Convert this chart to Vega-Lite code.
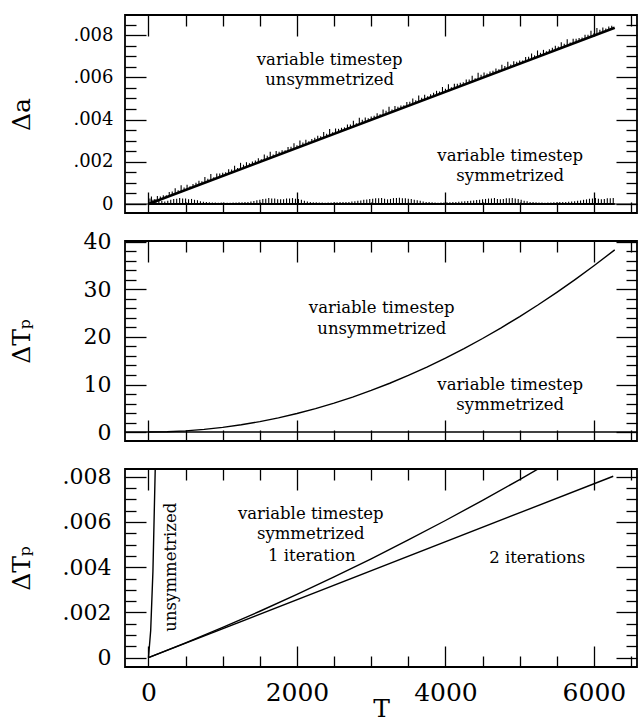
{
  "$schema": "https://vega.github.io/schema/vega-lite/v6.json",
  "padding": {"left": 8, "top": 13, "right": 0, "bottom": 0},
  "background": "white",
  "spacing": 28,
  "bounds": "flush",
  "config": {
    "font": "DejaVu Serif",
    "view": {"stroke": "black", "strokeWidth": 1.8},
    "axis": {"domain": false, "ticks": true, "grid": false, "tickColor": "black", "tickWidth": 1.3, "labelColor": "black", "titleColor": "black", "labelFont": "DejaVu Serif", "titleFont": "DejaVu Serif", "titleFontWeight": "normal"},
    "text": {"font": "DejaVu Serif"}
  },
  "datasets": {
    "zero": [{"v": 0}],
    "p1_unsym": [{"T": 0, "v": 0}, {"T": 6280, "v": 0.00835}],
    "p1_symbase": [{"T": 0, "v": 0}, {"T": 6280, "v": 0}],
    "p1_spk": [
      {"T": 40, "lo": 0.00005, "hi": 0.00035}, {"T": 120, "lo": 0.00016, "hi": 0.00038}, {"T": 200, "lo": 0.00027, "hi": 0.00042}, {"T": 280, "lo": 0.00037, "hi": 0.00057}, {"T": 360, "lo": 0.00048, "hi": 0.00075},
      {"T": 440, "lo": 0.00059, "hi": 0.00089}, {"T": 520, "lo": 0.00069, "hi": 0.00091}, {"T": 600, "lo": 0.0008, "hi": 0.00095}, {"T": 680, "lo": 0.0009, "hi": 0.0011}, {"T": 760, "lo": 0.00101, "hi": 0.00128},
      {"T": 840, "lo": 0.00112, "hi": 0.00142}, {"T": 920, "lo": 0.00122, "hi": 0.00144}, {"T": 1000, "lo": 0.00133, "hi": 0.00148}, {"T": 1080, "lo": 0.00144, "hi": 0.00164}, {"T": 1160, "lo": 0.00154, "hi": 0.00181},
      {"T": 1240, "lo": 0.00165, "hi": 0.00195}, {"T": 1320, "lo": 0.00176, "hi": 0.00198}, {"T": 1400, "lo": 0.00186, "hi": 0.00201}, {"T": 1480, "lo": 0.00197, "hi": 0.00217}, {"T": 1560, "lo": 0.00207, "hi": 0.00234},
      {"T": 1640, "lo": 0.00218, "hi": 0.00248}, {"T": 1720, "lo": 0.00229, "hi": 0.00251}, {"T": 1800, "lo": 0.00239, "hi": 0.00254}, {"T": 1880, "lo": 0.0025, "hi": 0.0027}, {"T": 1960, "lo": 0.00261, "hi": 0.00288},
      {"T": 2040, "lo": 0.00271, "hi": 0.00301}, {"T": 2120, "lo": 0.00282, "hi": 0.00304}, {"T": 2200, "lo": 0.00293, "hi": 0.00308}, {"T": 2280, "lo": 0.00303, "hi": 0.00323}, {"T": 2360, "lo": 0.00314, "hi": 0.00341},
      {"T": 2440, "lo": 0.00325, "hi": 0.00355}, {"T": 2520, "lo": 0.00335, "hi": 0.00357}, {"T": 2600, "lo": 0.00346, "hi": 0.00361}, {"T": 2680, "lo": 0.00356, "hi": 0.00376}, {"T": 2760, "lo": 0.00367, "hi": 0.00394},
      {"T": 2840, "lo": 0.00378, "hi": 0.00408}, {"T": 2920, "lo": 0.00388, "hi": 0.0041}, {"T": 3000, "lo": 0.00399, "hi": 0.00414}, {"T": 3080, "lo": 0.0041, "hi": 0.0043}, {"T": 3160, "lo": 0.0042, "hi": 0.00447},
      {"T": 3240, "lo": 0.00431, "hi": 0.00461}, {"T": 3320, "lo": 0.00442, "hi": 0.00464}, {"T": 3400, "lo": 0.00452, "hi": 0.00467}, {"T": 3480, "lo": 0.00463, "hi": 0.00483}, {"T": 3560, "lo": 0.00473, "hi": 0.005},
      {"T": 3640, "lo": 0.00484, "hi": 0.00514}, {"T": 3720, "lo": 0.00495, "hi": 0.00517}, {"T": 3800, "lo": 0.00505, "hi": 0.0052}, {"T": 3880, "lo": 0.00516, "hi": 0.00536}, {"T": 3960, "lo": 0.00527, "hi": 0.00554},
      {"T": 4040, "lo": 0.00537, "hi": 0.00567}, {"T": 4120, "lo": 0.00548, "hi": 0.0057}, {"T": 4200, "lo": 0.00559, "hi": 0.00574}, {"T": 4280, "lo": 0.00569, "hi": 0.00589}, {"T": 4360, "lo": 0.0058, "hi": 0.00607},
      {"T": 4440, "lo": 0.00591, "hi": 0.00621}, {"T": 4520, "lo": 0.00601, "hi": 0.00623}, {"T": 4600, "lo": 0.00612, "hi": 0.00627}, {"T": 4680, "lo": 0.00622, "hi": 0.00642}, {"T": 4760, "lo": 0.00633, "hi": 0.0066},
      {"T": 4840, "lo": 0.00644, "hi": 0.00674}, {"T": 4920, "lo": 0.00654, "hi": 0.00676}, {"T": 5000, "lo": 0.00665, "hi": 0.0068}, {"T": 5080, "lo": 0.00676, "hi": 0.00696}, {"T": 5160, "lo": 0.00686, "hi": 0.00713},
      {"T": 5240, "lo": 0.00697, "hi": 0.00727}, {"T": 5320, "lo": 0.00708, "hi": 0.0073}, {"T": 5400, "lo": 0.00718, "hi": 0.00733}, {"T": 5480, "lo": 0.00729, "hi": 0.00749}, {"T": 5560, "lo": 0.00739, "hi": 0.00766},
      {"T": 5640, "lo": 0.0075, "hi": 0.0078}, {"T": 5720, "lo": 0.00761, "hi": 0.00783}, {"T": 5800, "lo": 0.00771, "hi": 0.00786}, {"T": 5880, "lo": 0.00782, "hi": 0.00802}, {"T": 5960, "lo": 0.00793, "hi": 0.0082},
      {"T": 6040, "lo": 0.00803, "hi": 0.00833}, {"T": 6120, "lo": 0.00814, "hi": 0.00836}, {"T": 6200, "lo": 0.00825, "hi": 0.0084},
      {"T": 80, "lo": 0.00011, "hi": 0.00023}, {"T": 160, "lo": 0.00021, "hi": 0.00035}, {"T": 240, "lo": 0.00032, "hi": 0.00042}, {"T": 320, "lo": 0.00043, "hi": 0.00059}, {"T": 400, "lo": 0.00053, "hi": 0.00065},
      {"T": 480, "lo": 0.00064, "hi": 0.00078}, {"T": 560, "lo": 0.00074, "hi": 0.00084}, {"T": 640, "lo": 0.00085, "hi": 0.00101}, {"T": 720, "lo": 0.00096, "hi": 0.00108}, {"T": 800, "lo": 0.00106, "hi": 0.0012},
      {"T": 880, "lo": 0.00117, "hi": 0.00127}, {"T": 960, "lo": 0.00128, "hi": 0.00144}, {"T": 1040, "lo": 0.00138, "hi": 0.0015}, {"T": 1120, "lo": 0.00149, "hi": 0.00163}, {"T": 1200, "lo": 0.0016, "hi": 0.0017},
      {"T": 1280, "lo": 0.0017, "hi": 0.00186}, {"T": 1360, "lo": 0.00181, "hi": 0.00193}, {"T": 1440, "lo": 0.00192, "hi": 0.00206}, {"T": 1520, "lo": 0.00202, "hi": 0.00212}, {"T": 1600, "lo": 0.00213, "hi": 0.00229},
      {"T": 1680, "lo": 0.00223, "hi": 0.00235}, {"T": 1760, "lo": 0.00234, "hi": 0.00248}, {"T": 1840, "lo": 0.00245, "hi": 0.00255}, {"T": 1920, "lo": 0.00255, "hi": 0.00271}, {"T": 2000, "lo": 0.00266, "hi": 0.00278},
      {"T": 2080, "lo": 0.00277, "hi": 0.00291}, {"T": 2160, "lo": 0.00287, "hi": 0.00297}, {"T": 2240, "lo": 0.00298, "hi": 0.00314}, {"T": 2320, "lo": 0.00309, "hi": 0.00321}, {"T": 2400, "lo": 0.00319, "hi": 0.00333},
      {"T": 2480, "lo": 0.0033, "hi": 0.0034}, {"T": 2560, "lo": 0.0034, "hi": 0.00356}, {"T": 2640, "lo": 0.00351, "hi": 0.00363}, {"T": 2720, "lo": 0.00362, "hi": 0.00376}, {"T": 2800, "lo": 0.00372, "hi": 0.00382},
      {"T": 2880, "lo": 0.00383, "hi": 0.00399}, {"T": 2960, "lo": 0.00394, "hi": 0.00406}, {"T": 3040, "lo": 0.00404, "hi": 0.00418}, {"T": 3120, "lo": 0.00415, "hi": 0.00425}, {"T": 3200, "lo": 0.00426, "hi": 0.00442},
      {"T": 3280, "lo": 0.00436, "hi": 0.00448}, {"T": 3360, "lo": 0.00447, "hi": 0.00461}, {"T": 3440, "lo": 0.00458, "hi": 0.00468}, {"T": 3520, "lo": 0.00468, "hi": 0.00484}, {"T": 3600, "lo": 0.00479, "hi": 0.00491},
      {"T": 3680, "lo": 0.00489, "hi": 0.00503}, {"T": 3760, "lo": 0.005, "hi": 0.0051}, {"T": 3840, "lo": 0.00511, "hi": 0.00527}, {"T": 3920, "lo": 0.00521, "hi": 0.00533}, {"T": 4000, "lo": 0.00532, "hi": 0.00546},
      {"T": 4080, "lo": 0.00543, "hi": 0.00553}, {"T": 4160, "lo": 0.00553, "hi": 0.00569}, {"T": 4240, "lo": 0.00564, "hi": 0.00576}, {"T": 4320, "lo": 0.00575, "hi": 0.00589}, {"T": 4400, "lo": 0.00585, "hi": 0.00595},
      {"T": 4480, "lo": 0.00596, "hi": 0.00612}, {"T": 4560, "lo": 0.00606, "hi": 0.00618}, {"T": 4640, "lo": 0.00617, "hi": 0.00631}, {"T": 4720, "lo": 0.00628, "hi": 0.00638}, {"T": 4800, "lo": 0.00638, "hi": 0.00654},
      {"T": 4880, "lo": 0.00649, "hi": 0.00661}, {"T": 4960, "lo": 0.0066, "hi": 0.00674}, {"T": 5040, "lo": 0.0067, "hi": 0.0068}, {"T": 5120, "lo": 0.00681, "hi": 0.00697}, {"T": 5200, "lo": 0.00692, "hi": 0.00704},
      {"T": 5280, "lo": 0.00702, "hi": 0.00716}, {"T": 5360, "lo": 0.00713, "hi": 0.00723}, {"T": 5440, "lo": 0.00724, "hi": 0.0074}, {"T": 5520, "lo": 0.00734, "hi": 0.00746}, {"T": 5600, "lo": 0.00745, "hi": 0.00759},
      {"T": 5680, "lo": 0.00755, "hi": 0.00765}, {"T": 5760, "lo": 0.00766, "hi": 0.00782}, {"T": 5840, "lo": 0.00777, "hi": 0.00789}, {"T": 5920, "lo": 0.00787, "hi": 0.00801}, {"T": 6000, "lo": 0.00798, "hi": 0.00808},
      {"T": 6080, "lo": 0.00809, "hi": 0.00825}, {"T": 6160, "lo": 0.00819, "hi": 0.00831}, {"T": 6240, "lo": 0.0083, "hi": 0.00844}
    ],
    "p1_symspk": [
      {"T": 20, "lo": 0, "hi": 0.00026}, {"T": 100, "lo": 0, "hi": 0.00022}, {"T": 180, "lo": 0, "hi": 0.00014}, {"T": 260, "lo": 0, "hi": 0.00016}, {"T": 340, "lo": 0, "hi": 0.00024},
      {"T": 420, "lo": 0, "hi": 0.00028}, {"T": 500, "lo": 0, "hi": 0.00026}, {"T": 580, "lo": 0, "hi": 0.00024}, {"T": 660, "lo": 0, "hi": 0.00018}, {"T": 740, "lo": 0, "hi": 0.00011},
      {"T": 820, "lo": 0, "hi": 0.00008}, {"T": 900, "lo": 0, "hi": 0.00007}, {"T": 980, "lo": 0, "hi": 0.00007}, {"T": 1060, "lo": 0, "hi": 0.00006}, {"T": 1140, "lo": 0, "hi": 0.00007},
      {"T": 1220, "lo": 0, "hi": 0.00008}, {"T": 1300, "lo": 0, "hi": 0.00009}, {"T": 1380, "lo": 0, "hi": 0.00012}, {"T": 1460, "lo": 0, "hi": 0.00018}, {"T": 1540, "lo": 0, "hi": 0.00024},
      {"T": 1620, "lo": 0, "hi": 0.00028}, {"T": 1700, "lo": 0, "hi": 0.00026}, {"T": 1780, "lo": 0, "hi": 0.00022}, {"T": 1860, "lo": 0, "hi": 0.00026}, {"T": 1940, "lo": 0, "hi": 0.00028},
      {"T": 2020, "lo": 0, "hi": 0.00024}, {"T": 2100, "lo": 0, "hi": 0.00016}, {"T": 2180, "lo": 0, "hi": 0.0001}, {"T": 2260, "lo": 0, "hi": 0.00008}, {"T": 2340, "lo": 0, "hi": 0.00007},
      {"T": 2420, "lo": 0, "hi": 0.00007}, {"T": 2500, "lo": 0, "hi": 0.00008}, {"T": 2580, "lo": 0, "hi": 0.00009}, {"T": 2660, "lo": 0, "hi": 0.0001}, {"T": 2740, "lo": 0, "hi": 0.00012},
      {"T": 2820, "lo": 0, "hi": 0.00015}, {"T": 2900, "lo": 0, "hi": 0.0002}, {"T": 2980, "lo": 0, "hi": 0.00024}, {"T": 3060, "lo": 0, "hi": 0.00027}, {"T": 3140, "lo": 0, "hi": 0.00029},
      {"T": 3220, "lo": 0, "hi": 0.00022}, {"T": 3300, "lo": 0, "hi": 0.00028}, {"T": 3380, "lo": 0, "hi": 0.0003}, {"T": 3460, "lo": 0, "hi": 0.00027}, {"T": 3540, "lo": 0, "hi": 0.00024},
      {"T": 3620, "lo": 0, "hi": 0.00018}, {"T": 3700, "lo": 0, "hi": 0.00012}, {"T": 3780, "lo": 0, "hi": 0.00009}, {"T": 3860, "lo": 0, "hi": 0.00007}, {"T": 3940, "lo": 0, "hi": 0.00007},
      {"T": 4020, "lo": 0, "hi": 0.00008}, {"T": 4100, "lo": 0, "hi": 0.00009}, {"T": 4180, "lo": 0, "hi": 0.00011}, {"T": 4260, "lo": 0, "hi": 0.00013}, {"T": 4340, "lo": 0, "hi": 0.00016},
      {"T": 4420, "lo": 0, "hi": 0.00019}, {"T": 4500, "lo": 0, "hi": 0.00022}, {"T": 4580, "lo": 0, "hi": 0.00026}, {"T": 4660, "lo": 0, "hi": 0.00028}, {"T": 4740, "lo": 0, "hi": 0.00022},
      {"T": 4820, "lo": 0, "hi": 0.00027}, {"T": 4900, "lo": 0, "hi": 0.00029}, {"T": 4980, "lo": 0, "hi": 0.00024}, {"T": 5060, "lo": 0, "hi": 0.00016}, {"T": 5140, "lo": 0, "hi": 0.0001},
      {"T": 5220, "lo": 0, "hi": 0.00008}, {"T": 5300, "lo": 0, "hi": 0.00007}, {"T": 5380, "lo": 0, "hi": 0.00007}, {"T": 5460, "lo": 0, "hi": 0.00008}, {"T": 5540, "lo": 0, "hi": 0.00009},
      {"T": 5620, "lo": 0, "hi": 0.0001}, {"T": 5700, "lo": 0, "hi": 0.00012}, {"T": 5780, "lo": 0, "hi": 0.00015}, {"T": 5860, "lo": 0, "hi": 0.0002}, {"T": 5940, "lo": 0, "hi": 0.00025},
      {"T": 6020, "lo": 0, "hi": 0.00028}, {"T": 6100, "lo": 0, "hi": 0.00022}, {"T": 6180, "lo": 0, "hi": 0.00027}, {"T": 6260, "lo": 0, "hi": 0.00029},
      {"T": 60, "lo": 0, "hi": 0.0002}, {"T": 140, "lo": 0, "hi": 0.00016}, {"T": 220, "lo": 0, "hi": 0.00012}, {"T": 300, "lo": 0, "hi": 0.0002}, {"T": 380, "lo": 0, "hi": 0.00025},
      {"T": 460, "lo": 0, "hi": 0.00026}, {"T": 540, "lo": 0, "hi": 0.00023}, {"T": 620, "lo": 0, "hi": 0.0002}, {"T": 700, "lo": 0, "hi": 0.00013}, {"T": 780, "lo": 0, "hi": 0.00009},
      {"T": 860, "lo": 0, "hi": 0.00007}, {"T": 940, "lo": 0, "hi": 0.00006}, {"T": 1020, "lo": 0, "hi": 0.00006}, {"T": 1100, "lo": 0, "hi": 0.00006}, {"T": 1180, "lo": 0, "hi": 0.00007},
      {"T": 1260, "lo": 0, "hi": 0.00008}, {"T": 1340, "lo": 0, "hi": 0.0001}, {"T": 1420, "lo": 0, "hi": 0.00014}, {"T": 1500, "lo": 0, "hi": 0.0002}, {"T": 1580, "lo": 0, "hi": 0.00025},
      {"T": 1660, "lo": 0, "hi": 0.00026}, {"T": 1740, "lo": 0, "hi": 0.00022}, {"T": 1820, "lo": 0, "hi": 0.00023}, {"T": 1900, "lo": 0, "hi": 0.00026}, {"T": 1980, "lo": 0, "hi": 0.00025},
      {"T": 2060, "lo": 0, "hi": 0.0002}, {"T": 2140, "lo": 0, "hi": 0.00012}, {"T": 2220, "lo": 0, "hi": 0.00008}, {"T": 2300, "lo": 0, "hi": 0.00007}, {"T": 2380, "lo": 0, "hi": 0.00006},
      {"T": 2460, "lo": 0, "hi": 0.00007}, {"T": 2540, "lo": 0, "hi": 0.00008}, {"T": 2620, "lo": 0, "hi": 0.00009}, {"T": 2700, "lo": 0, "hi": 0.0001}, {"T": 2780, "lo": 0, "hi": 0.00013},
      {"T": 2860, "lo": 0, "hi": 0.00017}, {"T": 2940, "lo": 0, "hi": 0.00021}, {"T": 3020, "lo": 0, "hi": 0.00025}, {"T": 3100, "lo": 0, "hi": 0.00027}, {"T": 3180, "lo": 0, "hi": 0.00025},
      {"T": 3260, "lo": 0, "hi": 0.00024}, {"T": 3340, "lo": 0, "hi": 0.00028}, {"T": 3420, "lo": 0, "hi": 0.00027}, {"T": 3500, "lo": 0, "hi": 0.00025}, {"T": 3580, "lo": 0, "hi": 0.0002},
      {"T": 3660, "lo": 0, "hi": 0.00015}, {"T": 3740, "lo": 0, "hi": 0.0001}, {"T": 3820, "lo": 0, "hi": 0.00008}, {"T": 3900, "lo": 0, "hi": 0.00006}, {"T": 3980, "lo": 0, "hi": 0.00007},
      {"T": 4060, "lo": 0, "hi": 0.00008}, {"T": 4140, "lo": 0, "hi": 0.0001}, {"T": 4220, "lo": 0, "hi": 0.00012}, {"T": 4300, "lo": 0, "hi": 0.00014}, {"T": 4380, "lo": 0, "hi": 0.00017},
      {"T": 4460, "lo": 0, "hi": 0.0002}, {"T": 4540, "lo": 0, "hi": 0.00024}, {"T": 4620, "lo": 0, "hi": 0.00026}, {"T": 4700, "lo": 0, "hi": 0.00024}, {"T": 4780, "lo": 0, "hi": 0.00024},
      {"T": 4860, "lo": 0, "hi": 0.00027}, {"T": 4940, "lo": 0, "hi": 0.00026}, {"T": 5020, "lo": 0, "hi": 0.0002}, {"T": 5100, "lo": 0, "hi": 0.00013}, {"T": 5180, "lo": 0, "hi": 0.00009},
      {"T": 5260, "lo": 0, "hi": 0.00007}, {"T": 5340, "lo": 0, "hi": 0.00006}, {"T": 5420, "lo": 0, "hi": 0.00007}, {"T": 5500, "lo": 0, "hi": 0.00008}, {"T": 5580, "lo": 0, "hi": 0.00009},
      {"T": 5660, "lo": 0, "hi": 0.00011}, {"T": 5740, "lo": 0, "hi": 0.00013}, {"T": 5820, "lo": 0, "hi": 0.00017}, {"T": 5900, "lo": 0, "hi": 0.00022}, {"T": 5980, "lo": 0, "hi": 0.00026},
      {"T": 6060, "lo": 0, "hi": 0.00025}, {"T": 6140, "lo": 0, "hi": 0.00024}, {"T": 6220, "lo": 0, "hi": 0.00027}
    ],
    "p1_text": [
      {"T": 2440, "v": 0.00682, "label": "variable timestep"},
      {"T": 2440, "v": 0.00587, "label": "unsymmetrized"},
      {"T": 4872, "v": 0.00227, "label": "variable timestep"},
      {"T": 4872, "v": 0.00133, "label": "symmetrized"}
    ],
    "p2_curve": [
      {"T": 0, "v": 0}, {"T": 250, "v": 0.061}, {"T": 500, "v": 0.243}, {"T": 750, "v": 0.547}, {"T": 1000, "v": 0.972},
      {"T": 1250, "v": 1.519}, {"T": 1500, "v": 2.187}, {"T": 1750, "v": 2.977}, {"T": 2000, "v": 3.888}, {"T": 2250, "v": 4.921},
      {"T": 2500, "v": 6.075}, {"T": 2750, "v": 7.351}, {"T": 3000, "v": 8.748}, {"T": 3250, "v": 10.267}, {"T": 3500, "v": 11.907},
      {"T": 3750, "v": 13.669}, {"T": 4000, "v": 15.552}, {"T": 4250, "v": 17.557}, {"T": 4500, "v": 19.683}, {"T": 4750, "v": 21.931},
      {"T": 5000, "v": 24.3}, {"T": 5250, "v": 26.79}, {"T": 5500, "v": 29.403}, {"T": 5750, "v": 32.137}, {"T": 6000, "v": 34.992}, {"T": 6280, "v": 38.33}
    ],
    "p2_sym": [{"T": -316, "v": 0}, {"T": 6580, "v": 0}],
    "p2_textA": [
      {"T": 3142, "v": 26.0, "label": "variable timestep"},
      {"T": 3142, "v": 21.6, "label": "unsymmetrized"}
    ],
    "p2_textB": [
      {"T": 4872, "v": 9.8, "label": "variable timestep"},
      {"T": 4872, "v": 5.6, "label": "symmetrized"}
    ],
    "p3_unsym": [{"T": 0, "v": 0}, {"T": 30, "v": 0.0012}, {"T": 60, "v": 0.0038}, {"T": 95, "v": 0.0089}],
    "p3_iter1": [
      {"T": 0, "v": 0}, {"T": 500, "v": 0.000655}, {"T": 1000, "v": 0.001339}, {"T": 1500, "v": 0.002053}, {"T": 2000, "v": 0.002796},
      {"T": 2500, "v": 0.003569}, {"T": 3000, "v": 0.004371}, {"T": 3500, "v": 0.005203}, {"T": 4000, "v": 0.006064}, {"T": 4500, "v": 0.006955},
      {"T": 5000, "v": 0.007875}, {"T": 5400, "v": 0.00863}
    ],
    "p3_iter2": [{"T": 0, "v": 0}, {"T": 6260, "v": 0.00802}],
    "p3_text": [
      {"T": 2186, "v": 0.00636, "label": "variable timestep"},
      {"T": 2186, "v": 0.00547, "label": "symmetrized"},
      {"T": 2200, "v": 0.00449, "label": "1 iteration"},
      {"T": 5236, "v": 0.0044, "label": "2 iterations"}
    ],
    "p3_vtext": [{"T": 304, "v": 0.004, "label": "unsymmetrized"}]
  },
  "vconcat": [
    {
      "width": 512, "height": 198,
      "resolve": {"axis": {"x": "independent", "y": "independent"}},
      "layer": [
        {
          "data": {"name": "p1_unsym"},
          "mark": {"type": "line", "color": "black", "strokeWidth": 2.6},
          "encoding": {
            "x": {"field": "T", "type": "quantitative", "scale": {"domain": [-316, 6580], "nice": false, "zero": false},
              "axis": {"orient": "bottom", "values": [0, 2000, 4000, 6000], "tickSize": -21, "labels": false, "title": null, "minExtent": 0, "maxExtent": 0}},
            "y": {"field": "v", "type": "quantitative", "scale": {"domain": [-0.000426, 0.00895], "nice": false, "zero": false},
              "axis": {"orient": "left", "values": [0, 0.002, 0.004, 0.006, 0.008], "tickSize": -21, "labelExpr": "datum.value == 0 ? '0' : replace(format(datum.value, '.3f'), '0.', '.')", "labelFontSize": 18, "labelPadding": 33, "title": "\u0394a", "titleFontSize": 25, "titlePadding": 21, "minExtent": 70, "maxExtent": 70}}
          }
        },
        {
          "data": {"name": "p1_symbase"},
          "mark": {"type": "line", "color": "black", "strokeWidth": 2},
          "encoding": {
            "x": {"field": "T", "type": "quantitative", "scale": {"domain": [-316, 6580], "nice": false, "zero": false},
              "axis": {"orient": "bottom", "values": [500, 1000, 1500, 2500, 3000, 3500, 4500, 5000, 5500, 6500], "tickSize": -11, "labels": false, "title": null, "minExtent": 0, "maxExtent": 0}},
            "y": {"field": "v", "type": "quantitative", "scale": {"domain": [-0.000426, 0.00895], "nice": false, "zero": false},
              "axis": {"orient": "left", "values": [0.0005, 0.001, 0.0015, 0.0025, 0.003, 0.0035, 0.0045, 0.005, 0.0055, 0.0065, 0.007, 0.0075, 0.0085], "tickSize": -11, "labels": false, "title": null, "minExtent": 0, "maxExtent": 0}}
          }
        },
        {
          "data": {"name": "p1_spk"},
          "mark": {"type": "rule", "color": "black", "strokeWidth": 1.1},
          "encoding": {
            "x": {"field": "T", "type": "quantitative", "scale": {"domain": [-316, 6580], "nice": false, "zero": false},
              "axis": {"orient": "top", "values": [0, 2000, 4000, 6000], "tickSize": -21, "labels": false, "title": null, "minExtent": 0, "maxExtent": 0}},
            "y": {"field": "lo", "type": "quantitative", "scale": {"domain": [-0.000426, 0.00895], "nice": false, "zero": false},
              "axis": {"orient": "right", "values": [0, 0.002, 0.004, 0.006, 0.008], "tickSize": -21, "labels": false, "title": null, "minExtent": 0, "maxExtent": 0}},
            "y2": {"field": "hi"}
          }
        },
        {
          "data": {"name": "p1_symspk"},
          "mark": {"type": "rule", "color": "black", "strokeWidth": 1.1},
          "encoding": {
            "x": {"field": "T", "type": "quantitative", "scale": {"domain": [-316, 6580], "nice": false, "zero": false},
              "axis": {"orient": "top", "values": [500, 1000, 1500, 2500, 3000, 3500, 4500, 5000, 5500, 6500], "tickSize": -11, "labels": false, "title": null, "minExtent": 0, "maxExtent": 0}},
            "y": {"field": "lo", "type": "quantitative", "scale": {"domain": [-0.000426, 0.00895], "nice": false, "zero": false},
              "axis": {"orient": "right", "values": [0.0005, 0.001, 0.0015, 0.0025, 0.003, 0.0035, 0.0045, 0.005, 0.0055, 0.0065, 0.007, 0.0075, 0.0085], "tickSize": -11, "labels": false, "title": null, "minExtent": 0, "maxExtent": 0}},
            "y2": {"field": "hi"}
          }
        },
        {
          "data": {"name": "zero"},
          "mark": {"type": "rule", "color": "black", "strokeWidth": 1.2},
          "encoding": {"y": {"field": "v", "type": "quantitative", "scale": {"domain": [-0.000426, 0.00895], "nice": false, "zero": false}, "axis": null}}
        },
        {
          "data": {"name": "p1_text"},
          "mark": {"type": "text", "fontSize": 16.5, "color": "black", "align": "center", "baseline": "middle"},
          "encoding": {
            "x": {"field": "T", "type": "quantitative", "scale": {"domain": [-316, 6580], "nice": false, "zero": false}, "axis": null},
            "y": {"field": "v", "type": "quantitative", "scale": {"domain": [-0.000426, 0.00895], "nice": false, "zero": false}, "axis": null},
            "text": {"field": "label"}
          }
        }
      ]
    },
    {
      "width": 512, "height": 200,
      "resolve": {"axis": {"x": "independent", "y": "independent"}},
      "layer": [
        {
          "data": {"name": "p2_curve"},
          "mark": {"type": "line", "color": "black", "strokeWidth": 1.4},
          "encoding": {
            "x": {"field": "T", "type": "quantitative", "scale": {"domain": [-316, 6580], "nice": false, "zero": false},
              "axis": {"orient": "bottom", "values": [0, 2000, 4000, 6000], "tickSize": -21, "labels": false, "title": null, "minExtent": 0, "maxExtent": 0}},
            "y": {"field": "v", "type": "quantitative", "scale": {"domain": [-1.89, 40.2], "nice": false, "zero": false},
              "axis": {"orient": "left", "values": [0, 10, 20, 30, 40], "tickSize": -21, "format": "d", "labelFontSize": 22, "labelPadding": 35, "title": "\u0394T\u209a", "titleFontSize": 25, "titlePadding": 21, "minExtent": 70, "maxExtent": 70}}
          }
        },
        {
          "data": {"name": "p2_sym"},
          "mark": {"type": "line", "color": "black", "strokeWidth": 1.4},
          "encoding": {
            "x": {"field": "T", "type": "quantitative", "scale": {"domain": [-316, 6580], "nice": false, "zero": false},
              "axis": {"orient": "bottom", "values": [500, 1000, 1500, 2500, 3000, 3500, 4500, 5000, 5500, 6500], "tickSize": -11, "labels": false, "title": null, "minExtent": 0, "maxExtent": 0}},
            "y": {"field": "v", "type": "quantitative", "scale": {"domain": [-1.89, 40.2], "nice": false, "zero": false},
              "axis": {"orient": "left", "values": [2, 4, 6, 8, 12, 14, 16, 18, 22, 24, 26, 28, 32, 34, 36, 38], "tickSize": -11, "labels": false, "title": null, "minExtent": 0, "maxExtent": 0}}
          }
        },
        {
          "data": {"name": "p2_textA"},
          "mark": {"type": "text", "fontSize": 16.5, "color": "black", "align": "center", "baseline": "middle"},
          "encoding": {
            "x": {"field": "T", "type": "quantitative", "scale": {"domain": [-316, 6580], "nice": false, "zero": false},
              "axis": {"orient": "top", "values": [0, 2000, 4000, 6000], "tickSize": -21, "labels": false, "title": null, "minExtent": 0, "maxExtent": 0}},
            "y": {"field": "v", "type": "quantitative", "scale": {"domain": [-1.89, 40.2], "nice": false, "zero": false},
              "axis": {"orient": "right", "values": [0, 10, 20, 30, 40], "tickSize": -21, "labels": false, "title": null, "minExtent": 0, "maxExtent": 0}},
            "text": {"field": "label"}
          }
        },
        {
          "data": {"name": "p2_textB"},
          "mark": {"type": "text", "fontSize": 16.5, "color": "black", "align": "center", "baseline": "middle"},
          "encoding": {
            "x": {"field": "T", "type": "quantitative", "scale": {"domain": [-316, 6580], "nice": false, "zero": false},
              "axis": {"orient": "top", "values": [500, 1000, 1500, 2500, 3000, 3500, 4500, 5000, 5500, 6500], "tickSize": -11, "labels": false, "title": null, "minExtent": 0, "maxExtent": 0}},
            "y": {"field": "v", "type": "quantitative", "scale": {"domain": [-1.89, 40.2], "nice": false, "zero": false},
              "axis": {"orient": "right", "values": [2, 4, 6, 8, 12, 14, 16, 18, 22, 24, 26, 28, 32, 34, 36, 38], "tickSize": -11, "labels": false, "title": null, "minExtent": 0, "maxExtent": 0}},
            "text": {"field": "label"}
          }
        }
      ]
    },
    {
      "width": 512, "height": 198,
      "resolve": {"axis": {"x": "independent", "y": "independent"}},
      "layer": [
        {
          "data": {"name": "p3_iter2"},
          "mark": {"type": "line", "color": "black", "strokeWidth": 1.4},
          "encoding": {
            "x": {"field": "T", "type": "quantitative", "scale": {"domain": [-316, 6580], "nice": false, "zero": false},
              "axis": {"orient": "bottom", "values": [0, 2000, 4000, 6000], "tickSize": -21, "format": "d", "labelFontSize": 25, "labelPadding": 34, "title": "T", "titleFontSize": 25, "titlePadding": -9, "minExtent": 38, "maxExtent": 38}},
            "y": {"field": "v", "type": "quantitative", "scale": {"domain": [-0.00041, 0.00834], "nice": false, "zero": false},
              "axis": {"orient": "left", "values": [0, 0.002, 0.004, 0.006, 0.008], "tickSize": -21, "labelExpr": "datum.value == 0 ? '0' : replace(format(datum.value, '.3f'), '0.', '.')", "labelFontSize": 22, "labelPadding": 35, "title": "\u0394T\u209a", "titleFontSize": 25, "titlePadding": 21, "minExtent": 70, "maxExtent": 70}}
          }
        },
        {
          "data": {"name": "p3_iter1"},
          "mark": {"type": "line", "color": "black", "strokeWidth": 1.4, "clip": true},
          "encoding": {
            "x": {"field": "T", "type": "quantitative", "scale": {"domain": [-316, 6580], "nice": false, "zero": false},
              "axis": {"orient": "bottom", "values": [500, 1000, 1500, 2500, 3000, 3500, 4500, 5000, 5500, 6500], "tickSize": -11, "labels": false, "title": null, "minExtent": 0, "maxExtent": 0}},
            "y": {"field": "v", "type": "quantitative", "scale": {"domain": [-0.00041, 0.00834], "nice": false, "zero": false},
              "axis": {"orient": "left", "values": [0.0005, 0.001, 0.0015, 0.0025, 0.003, 0.0035, 0.0045, 0.005, 0.0055, 0.0065, 0.007, 0.0075], "tickSize": -11, "labels": false, "title": null, "minExtent": 0, "maxExtent": 0}}
          }
        },
        {
          "data": {"name": "p3_unsym"},
          "mark": {"type": "line", "color": "black", "strokeWidth": 1.4, "clip": true},
          "encoding": {
            "x": {"field": "T", "type": "quantitative", "scale": {"domain": [-316, 6580], "nice": false, "zero": false},
              "axis": {"orient": "top", "values": [0, 2000, 4000, 6000], "tickSize": -21, "labels": false, "title": null, "minExtent": 0, "maxExtent": 0}},
            "y": {"field": "v", "type": "quantitative", "scale": {"domain": [-0.00041, 0.00834], "nice": false, "zero": false},
              "axis": {"orient": "right", "values": [0, 0.002, 0.004, 0.006, 0.008], "tickSize": -21, "labels": false, "title": null, "minExtent": 0, "maxExtent": 0}}
          }
        },
        {
          "data": {"name": "p3_text"},
          "mark": {"type": "text", "fontSize": 16.5, "color": "black", "align": "center", "baseline": "middle"},
          "encoding": {
            "x": {"field": "T", "type": "quantitative", "scale": {"domain": [-316, 6580], "nice": false, "zero": false},
              "axis": {"orient": "top", "values": [500, 1000, 1500, 2500, 3000, 3500, 4500, 5000, 5500, 6500], "tickSize": -11, "labels": false, "title": null, "minExtent": 0, "maxExtent": 0}},
            "y": {"field": "v", "type": "quantitative", "scale": {"domain": [-0.00041, 0.00834], "nice": false, "zero": false},
              "axis": {"orient": "right", "values": [0.0005, 0.001, 0.0015, 0.0025, 0.003, 0.0035, 0.0045, 0.005, 0.0055, 0.0065, 0.007, 0.0075], "tickSize": -11, "labels": false, "title": null, "minExtent": 0, "maxExtent": 0}},
            "text": {"field": "label"}
          }
        },
        {
          "data": {"name": "p3_vtext"},
          "mark": {"type": "text", "fontSize": 16.5, "color": "black", "align": "center", "baseline": "middle", "angle": 270},
          "encoding": {
            "x": {"field": "T", "type": "quantitative", "scale": {"domain": [-316, 6580], "nice": false, "zero": false}, "axis": null},
            "y": {"field": "v", "type": "quantitative", "scale": {"domain": [-0.00041, 0.00834], "nice": false, "zero": false}, "axis": null},
            "text": {"field": "label"}
          }
        }
      ]
    }
  ]
}
